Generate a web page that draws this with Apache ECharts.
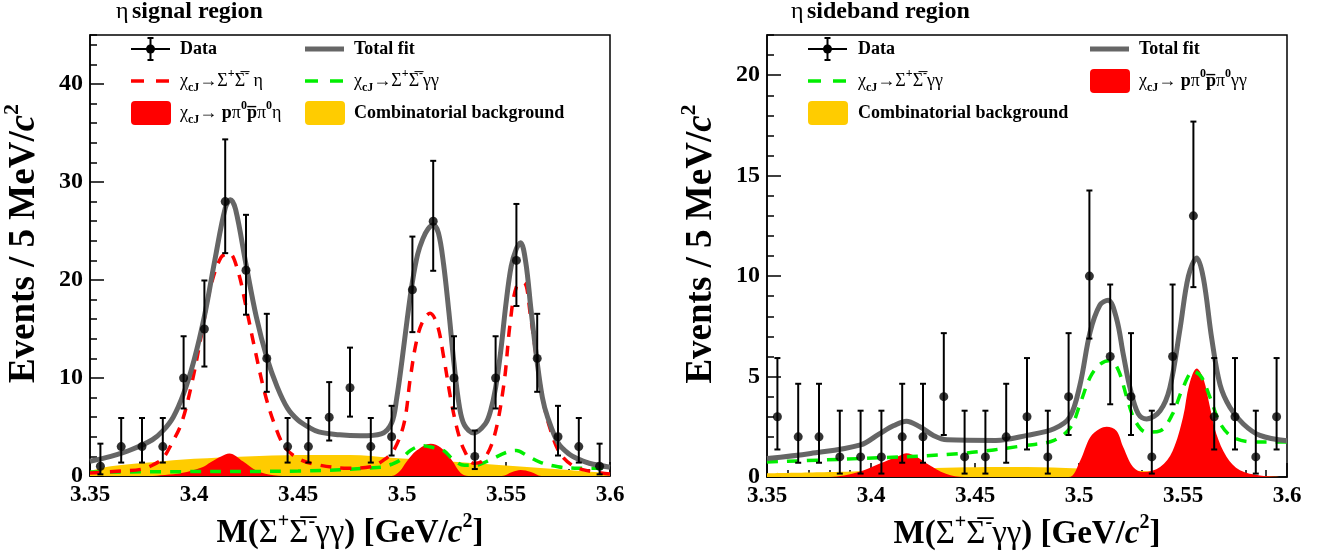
<!DOCTYPE html>
<html>
<head>
<meta charset="utf-8">
<script src="https://cdn.jsdelivr.net/npm/echarts/dist/echarts.min.js"></script>
<style>
  body { margin: 0; background: #fff; }
  #chart { width: 1321px; height: 556px; }
</style>
</head>
<body>
<div id="chart"></div>
<script>
  // bin centres (GeV/c^2)
  const binCenters = [3.355, 3.365, 3.375, 3.385, 3.395, 3.405, 3.415, 3.425, 3.435, 3.445,
                      3.455, 3.465, 3.475, 3.485, 3.495, 3.505, 3.515, 3.525, 3.535, 3.545,
                      3.555, 3.565, 3.575, 3.585, 3.595];

  // eta signal region: counts and poisson error band
  const sigCounts = [1, 3, 3, 3, 10, 15, 28, 21, 12, 3, 3, 6, 9, 3, 4, 19, 26, 10, 2, 10, 22, 12, 4, 3, 1];
  const sigLo = [0.17, 1.37, 1.37, 1.37, 6.89, 11.17, 22.74, 16.46, 8.59, 1.37, 1.37, 3.62, 6.06, 1.37, 2.09,
                 14.68, 20.94, 6.89, 0.71, 6.89, 17.35, 8.59, 2.09, 1.37, 0.17];
  const sigHi = [3.30, 5.92, 5.92, 5.92, 14.26, 19.95, 34.35, 26.65, 16.55, 5.92, 5.92, 9.58, 13.10, 5.92, 7.16,
                 24.43, 32.16, 14.26, 4.64, 14.26, 27.76, 16.55, 7.16, 5.92, 3.30];

  // eta sideband region
  const sbCounts = [3, 2, 2, 1, 1, 1, 2, 2, 4, 1, 1, 2, 3, 1, 4, 10, 6, 4, 1, 6, 13, 3, 3, 1, 3];
  const sbLo = [1.37, 0.71, 0.71, 0.17, 0.17, 0.17, 0.71, 0.71, 2.09, 0.17, 0.17, 0.71, 1.37, 0.17, 2.09,
                6.89, 3.62, 2.09, 0.17, 3.62, 9.45, 1.37, 1.37, 0.17, 1.37];
  const sbHi = [5.92, 4.64, 4.64, 3.30, 3.30, 3.30, 4.64, 4.64, 7.16, 3.30, 3.30, 4.64, 5.92, 3.30, 7.16,
                14.26, 9.58, 7.16, 3.30, 9.58, 17.69, 5.92, 5.92, 3.30, 5.92];

  // fit curves [mass, events]
  const sigTotal = [[3.350,1.5],[3.360,2.0],[3.370,2.7],[3.380,3.7],[3.385,4.6],[3.390,6.0],[3.395,8.4],[3.400,11.8],
    [3.405,16.3],[3.410,22.0],[3.415,27.3],[3.4175,28.2],[3.420,27.2],[3.425,21.6],[3.430,16.2],[3.435,12.1],
    [3.440,9.1],[3.445,6.9],[3.450,5.7],[3.455,5.0],[3.460,4.5],[3.470,4.2],[3.480,4.1],[3.490,4.3],[3.495,5.4],
    [3.4975,8.0],[3.500,11.8],[3.5025,16.0],[3.505,19.8],[3.5075,22.6],[3.510,24.2],[3.5125,25.2],[3.515,25.6],
    [3.5175,24.8],[3.520,21.6],[3.5225,16.8],[3.525,11.5],[3.5275,7.2],[3.530,5.2],[3.5345,4.4],[3.540,5.3],
    [3.5425,6.6],[3.545,9.0],[3.5475,12.8],[3.550,17.6],[3.5525,21.4],[3.555,23.2],[3.557,23.8],[3.5595,21.8],
    [3.562,17.0],[3.565,11.6],[3.5675,8.0],[3.570,6.0],[3.575,3.4],[3.580,2.3],[3.585,1.7],[3.590,1.3],[3.600,0.9]];
  const sigEta = [[3.350,0.3],[3.365,0.5],[3.375,0.7],[3.380,1.1],[3.385,1.8],[3.389,3.2],[3.394,5.4],[3.399,9.5],
    [3.404,14.9],[3.408,19.3],[3.413,22.3],[3.417,22.7],[3.421,21.0],[3.425,17.3],[3.429,13.2],[3.434,8.5],
    [3.4385,5.4],[3.4435,3.0],[3.450,1.8],[3.458,1.2],[3.474,0.8],[3.485,0.95],[3.491,1.6],[3.496,2.6],[3.501,5.4],
    [3.504,10.0],[3.507,13.8],[3.510,15.8],[3.5135,16.6],[3.517,15.4],[3.520,12.2],[3.5235,7.8],[3.527,4.4],
    [3.530,2.6],[3.5345,1.3],[3.539,1.6],[3.5443,4.0],[3.549,9.4],[3.552,15.6],[3.555,19.3],[3.5586,19.7],
    [3.5618,16.3],[3.565,11.5],[3.568,7.5],[3.5714,4.7],[3.576,2.3],[3.5825,1.0],[3.590,0.5],[3.600,0.2]];
  const sigGG = [[3.350,0.4],[3.400,0.45],[3.450,0.5],[3.490,0.9],[3.495,1.2],[3.499,1.6],[3.504,2.6],[3.510,3.1],
    [3.515,2.9],[3.520,2.6],[3.525,1.6],[3.530,1.1],[3.535,1.1],[3.542,1.6],[3.550,2.4],[3.555,2.6],[3.560,2.1],
    [3.5665,1.4],[3.575,0.95],[3.583,0.8],[3.600,0.8]];
  const sigPpi = [[3.350,0],[3.378,0],[3.386,0.1],[3.394,0.3],[3.404,0.9],[3.408,1.4],[3.413,2.0],[3.417,2.3],
    [3.4235,1.5],[3.4295,0.6],[3.436,0.15],[3.445,0],[3.495,0],[3.499,0.5],[3.502,1.4],[3.507,2.6],[3.5138,3.3],
    [3.5186,2.9],[3.524,1.6],[3.5282,0.3],[3.532,0],[3.548,0],[3.553,0.4],[3.557,0.6],[3.562,0.4],[3.567,0],[3.600,0]];
  const sigBkg = [[3.350,0.5],[3.360,1.0],[3.380,1.4],[3.400,1.75],[3.425,2.0],[3.450,2.15],[3.475,2.15],
    [3.495,1.85],[3.515,1.6],[3.535,1.3],[3.555,1.0],[3.575,0.7],[3.600,0.3]];

  const sbTotal = [[3.350,0.92],[3.371,1.17],[3.395,1.6],[3.404,2.15],[3.411,2.56],[3.417,2.78],[3.4235,2.5],
    [3.430,2.07],[3.4365,1.85],[3.460,1.82],[3.475,2.07],[3.488,2.4],[3.4955,2.97],[3.5005,4.6],[3.5053,7.2],
    [3.510,8.55],[3.514,8.8],[3.518,7.9],[3.5213,6.1],[3.5245,4.45],[3.5285,3.14],[3.5325,2.89],[3.539,3.3],
    [3.5437,4.45],[3.5486,7.4],[3.5526,10.0],[3.5566,10.9],[3.5598,9.9],[3.5638,6.9],[3.5678,4.6],[3.5726,3.46],
    [3.579,2.64],[3.587,2.07],[3.600,1.8]];
  const sbGG = [[3.350,0.75],[3.395,0.92],[3.443,1.17],[3.475,1.58],[3.488,1.82],[3.496,2.48],[3.5005,3.63],
    [3.5053,4.95],[3.510,5.6],[3.515,5.8],[3.519,5.3],[3.523,3.96],[3.527,2.8],[3.5325,2.23],[3.539,2.3],
    [3.545,3.14],[3.550,4.45],[3.555,5.27],[3.559,4.95],[3.563,3.96],[3.568,2.64],[3.574,1.98],[3.584,1.74],[3.600,1.74]];
  const sbPpi = [[3.350,0],[3.380,0],[3.394,0.25],[3.404,0.66],[3.414,1.07],[3.417,1.18],[3.422,1.0],[3.427,0.66],
    [3.436,0.16],[3.445,0],[3.495,0],[3.5005,0.8],[3.5053,1.97],[3.510,2.4],[3.5133,2.5],[3.518,2.3],[3.5213,1.48],
    [3.526,0.5],[3.531,0.25],[3.539,0.5],[3.545,1.3],[3.550,2.97],[3.553,4.6],[3.5566,5.4],[3.5598,4.9],[3.563,3.46],
    [3.566,2.15],[3.571,1.0],[3.5774,0.33],[3.587,0.08],[3.600,0]];
  const sbBkg = [[3.350,0.18],[3.395,0.28],[3.436,0.46],[3.475,0.5],[3.500,0.42],[3.530,0.3],[3.560,0.15],
    [3.590,0.03],[3.600,0]];

  const FONT = '"Liberation Serif", "DejaVu Serif", serif';
  const GRAY = '#666666', RED = '#ff0000', GREEN = '#00ee00', YELLOW = '#ffcc00';

  function titleRich(size) {
    return {
      b: { fontFamily: FONT, fontWeight: 'bold', fontSize: size, color: '#000', lineHeight: size + 10 },
      g: { fontFamily: FONT, fontWeight: 'normal', fontSize: size, color: '#000', lineHeight: size + 10 },
      i: { fontFamily: FONT, fontWeight: 'bold', fontStyle: 'italic', fontSize: size, color: '#000', lineHeight: size + 10 },
      sup: { fontFamily: FONT, fontWeight: 'bold', fontSize: Math.round(size * 0.6), color: '#000',
             lineHeight: Math.round(size * 0.6), verticalAlign: 'top' }
    };
  }
  const xName = '{b|M(}{g|Σ}{sup|+}{g|Σ\u0305}{sup|-}{g|γγ}{b|) [GeV/}{i|c}{sup|2}{b|]}';
  const yName = '{b|Events / 5 MeV/}{i|c}{sup|2}';

  const legRich = {
    b: { fontFamily: FONT, fontWeight: 'bold', fontSize: 18, color: '#000', lineHeight: 26 },
    g: { fontFamily: FONT, fontWeight: 'normal', fontSize: 18, color: '#000', lineHeight: 26 },
    sub: { fontFamily: FONT, fontWeight: 'bold', fontSize: 12, color: '#000', lineHeight: 12, verticalAlign: 'bottom' },
    sup: { fontFamily: FONT, fontWeight: 'bold', fontSize: 12, color: '#000', lineHeight: 12, verticalAlign: 'top' }
  };

  function xAxes(grid) {
    return [{
      type: 'value', gridIndex: grid, position: 'bottom', min: 3.35, max: 3.6, interval: 0.05,
      axisLine: { show: true, lineStyle: { color: '#000', width: 1.5 } },
      axisTick: { inside: true, length: 14, lineStyle: { color: '#000', width: 1.5 } },
      axisLabel: { fontFamily: FONT, fontWeight: 'bold', fontSize: 23, color: '#000', margin: 8,
                   formatter: v => String(+v.toFixed(2)) },
      splitLine: { show: false },
      name: xName, nameLocation: 'middle', nameGap: 30,
      nameTextStyle: { rich: titleRich(33) }
    }, {
      type: 'value', gridIndex: grid, position: 'bottom', min: 3.35, max: 3.6, interval: 0.01,
      axisLine: { show: false },
      axisTick: { inside: true, length: 7, lineStyle: { color: '#000', width: 1.5 } },
      axisLabel: { show: false }, splitLine: { show: false }
    }];
  }

  function yAxes(grid, max, major) {
    return [{
      type: 'value', gridIndex: grid, position: 'left', min: 0, max: max, interval: major,
      axisLine: { show: true, lineStyle: { color: '#000', width: 1.5 } },
      axisTick: { inside: true, length: 14, lineStyle: { color: '#000', width: 1.5 } },
      axisLabel: { fontFamily: FONT, fontWeight: 'bold', fontSize: 24, color: '#000', margin: 7,
                   showMaxLabel: false, formatter: v => (v % major === 0 ? String(v) : '') },
      splitLine: { show: false },
      name: yName, nameLocation: 'middle', nameRotate: 90, nameGap: 42,
      nameTextStyle: { rich: titleRich(37), padding: [0, 0, 0, 24] }
    }, {
      type: 'value', gridIndex: grid, position: 'left', min: 0, max: max, interval: major / 5,
      axisLine: { show: false },
      axisTick: { inside: true, length: 7, lineStyle: { color: '#000', width: 1.5 } },
      axisLabel: { show: false }, splitLine: { show: false }
    }];
  }

  function errorBar(params, api) {
    const x = api.value(0);
    const top = api.coord([x, api.value(2)]);
    const bot = api.coord([x, api.value(1)]);
    const st = { stroke: '#000', lineWidth: 2 };
    return {
      type: 'group',
      children: [
        { type: 'line', shape: { x1: top[0], y1: top[1], x2: bot[0], y2: bot[1] }, style: st },
        { type: 'line', shape: { x1: top[0] - 3, y1: top[1], x2: top[0] + 3, y2: top[1] }, style: st },
        { type: 'line', shape: { x1: bot[0] - 3, y1: bot[1], x2: bot[0] + 3, y2: bot[1] }, style: st }
      ]
    };
  }

  function area(name, data, color, ax) {
    return { name, type: 'line', xAxisIndex: ax, yAxisIndex: ax, data, smooth: 0.35, showSymbol: false,
             lineStyle: { width: 0 }, areaStyle: { color, opacity: 1 }, silent: true, z: 1 };
  }
  function curve(name, data, color, width, dash, ax) {
    return { name, type: 'line', xAxisIndex: ax, yAxisIndex: ax, data, smooth: 0.35, showSymbol: false,
             lineStyle: { color, width, type: dash || 'solid' }, silent: true, z: 3 };
  }
  function dataSeries(counts, lo, hi, ax) {
    return [{
      type: 'custom', xAxisIndex: ax, yAxisIndex: ax, renderItem: errorBar, z: 5, silent: true,
      encode: { x: 0, y: [1, 2] },
      data: binCenters.map((x, i) => [x, lo[i], hi[i]])
    }, {
      type: 'scatter', xAxisIndex: ax, yAxisIndex: ax, symbol: 'circle', symbolSize: 9, z: 6, silent: true,
      itemStyle: { color: '#000' },
      data: binCenters.map((x, i) => [x, counts[i]])
    }];
  }

  // legend pieces (ROOT TLegend look)
  function legData(x, y) {
    const st = { stroke: '#000', lineWidth: 2 };
    const c = x + 19.5;
    return [
      { type: 'line', shape: { x1: x, y1: y, x2: x + 39, y2: y }, style: st },
      { type: 'line', shape: { x1: c, y1: y - 11, x2: c, y2: y + 11 }, style: st },
      { type: 'line', shape: { x1: c - 3, y1: y - 11, x2: c + 3, y2: y - 11 }, style: st },
      { type: 'line', shape: { x1: c - 3, y1: y + 11, x2: c + 3, y2: y + 11 }, style: st },
      { type: 'circle', shape: { cx: c, cy: y, r: 4.5 }, style: { fill: '#000' } }
    ];
  }
  function legLine(x, y, color, width, dash) {
    return [{ type: 'line', shape: { x1: x, y1: y, x2: x + 39, y2: y },
              style: { stroke: color, lineWidth: width, lineDash: dash || null } }];
  }
  function legBox(x, y, color) {
    return [{ type: 'rect', shape: { x: x, y: y - 12, width: 40, height: 24, r: 4 }, style: { fill: color } }];
  }
  function legText(x, y, text) {
    return [{ type: 'text', x: x, y: y,
              style: { text, rich: legRich, fontFamily: FONT, fontSize: 18, fontWeight: 'bold',
                       fill: '#000', verticalAlign: 'middle', align: 'left' } }];
  }

  const etaEta = '{g|χ}{sub|cJ}{g|→Σ}{sup|+}{g|Σ\u0305}{sup|-}{g| η}';
  const etaGG = '{g|χ}{sub|cJ}{g|→Σ}{sup|+}{g|Σ\u0305}{sup|-}{g|γγ}';
  const ppiEta = '{g|χ}{sub|cJ}{g|→ }{b|p}{g|π}{sup|0}{b|p\u0305}{g|π}{sup|0}{g|η}';
  const ppiGG = '{g|χ}{sub|cJ}{g|→ }{b|p}{g|π}{sup|0}{b|p\u0305}{g|π}{sup|0}{g|γγ}';

  const titleStyle = { g: { fontFamily: FONT, fontSize: 24, color: '#000' },
                       b: { fontFamily: FONT, fontSize: 24, fontWeight: 'bold', color: '#000' } };

  const r1 = 49, r2 = 81, r3 = 113;
  const graphics = [].concat(
    legData(131, r1), legText(180, r1, '{b|Data}'),
    legLine(305, r1, GRAY, 5), legText(354, r1, '{b|Total fit}'),
    legLine(131, r2, RED, 3.5, [13, 12]), legText(180, r2, etaEta),
    legLine(305, r2, GREEN, 3.5, [13, 12]), legText(354, r2, etaGG),
    legBox(131, r3, RED), legText(180, r3, ppiEta),
    legBox(305, r3, YELLOW), legText(354, r3, '{b|Combinatorial background}'),

    legData(808, r1), legText(858, r1, '{b|Data}'),
    legLine(1090, r1, GRAY, 5), legText(1139, r1, '{b|Total fit}'),
    legLine(808, r2, GREEN, 3.5, [13, 12]), legText(858, r2, etaGG),
    legBox(1090, r2, RED), legText(1139, r2, ppiGG),
    legBox(808, r3, YELLOW), legText(858, r3, '{b|Combinatorial background}'),

    [{ type: 'text', x: 116, y: 12, style: { text: '{g|η} {b|signal region}', verticalAlign: 'middle', rich: titleStyle } },
     { type: 'text', x: 791, y: 12, style: { text: '{g|η} {b|sideband region}', verticalAlign: 'middle', rich: titleStyle } }]
  );

  const chart = echarts.init(document.getElementById('chart'));
  chart.setOption({
    animation: false,
    backgroundColor: '#fff',
    grid: [
      { left: 88, top: 35, width: 522, height: 441, show: true, borderColor: '#000', borderWidth: 1.5 },
      { left: 767, top: 35, width: 520, height: 442, show: true, borderColor: '#000', borderWidth: 1.5 }
    ],
    xAxis: [].concat(xAxes(0), xAxes(1)),
    yAxis: [].concat(yAxes(0, 45, 10), yAxes(1, 22, 5)),
    series: [].concat(
      area('Combinatorial background', sigBkg, YELLOW, 0),
      area('ppi eta', sigPpi, RED, 0),
      curve('SS gg', sigGG, GREEN, 3.5, [11, 9], 0),
      curve('SS eta', sigEta, RED, 3.5, [11, 9], 0),
      curve('Total fit', sigTotal, GRAY, 5, null, 0),
      dataSeries(sigCounts, sigLo, sigHi, 0),

      area('Combinatorial background', sbBkg, YELLOW, 2),
      area('ppi gg', sbPpi, RED, 2),
      curve('SS gg', sbGG, GREEN, 3.5, [11, 9], 2),
      curve('Total fit', sbTotal, GRAY, 5, null, 2),
      dataSeries(sbCounts, sbLo, sbHi, 2)
    ),
    graphic: graphics
  });
</script>
</body>
</html>
